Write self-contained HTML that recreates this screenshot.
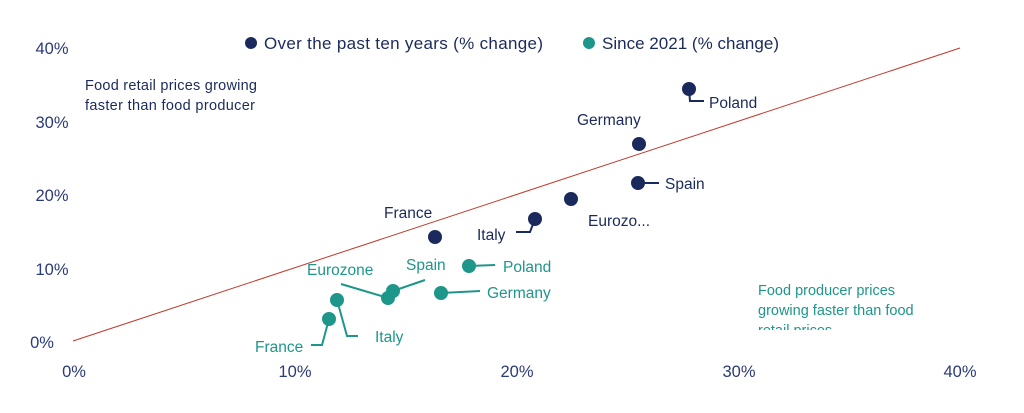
<!DOCTYPE html>
<html><head><meta charset="utf-8"><style>
html,body{margin:0;padding:0;background:#fff;}
svg{display:block;font-family:"Liberation Sans",sans-serif;}
.ax{fill:#2b3a78;font-size:16.5px;}
.n{fill:#1b2a5c;font-size:15.5px;}
.t{fill:#1e968a;font-size:15.5px;}
</style></head><body>
<svg width="1024" height="413" viewBox="0 0 1024 413">
<g class="ax">
<text x="52" y="54" text-anchor="middle">40%</text>
<text x="52" y="128" text-anchor="middle">30%</text>
<text x="52" y="201" text-anchor="middle">20%</text>
<text x="52" y="275" text-anchor="middle">10%</text>
<text x="42" y="348" text-anchor="middle">0%</text>
<text x="74" y="377" text-anchor="middle">0%</text>
<text x="295" y="377" text-anchor="middle">10%</text>
<text x="517" y="377" text-anchor="middle">20%</text>
<text x="739" y="377" text-anchor="middle">30%</text>
<text x="960" y="377" text-anchor="middle">40%</text>
</g>
<line x1="73" y1="341" x2="960" y2="48" stroke="#c0392b" stroke-width="1"/>
<circle cx="251" cy="43" r="6" fill="#1b2a5c"/>
<text x="264" y="49" class="n" style="font-size:17px" textLength="279">Over the past ten years (% change)</text>
<circle cx="589" cy="43" r="6" fill="#1e968a"/>
<text x="602" y="49" class="n" style="font-size:17px" textLength="177">Since 2021 (% change)</text>
<text x="85" y="90" class="n" style="font-size:14.5px" textLength="172">Food retail prices growing</text>
<text x="85" y="110" class="n" style="font-size:14.5px" textLength="170">faster than food producer</text>
<text x="758" y="295" class="t" style="font-size:14.5px">Food producer prices</text>
<text x="758" y="315" class="t" style="font-size:14.5px">growing faster than food</text>
<svg x="758" y="319" width="200" height="11" overflow="hidden"><text x="0" y="16" class="t" style="font-size:14.5px">retail prices</text></svg>
<g fill="#1b2a5c" stroke="#1b2a5c" stroke-width="2">
<circle cx="689" cy="89" r="6"/><polyline points="689,89 690,101 704,101" fill="none"/>
<circle cx="639" cy="144" r="6"/>
<circle cx="638" cy="183" r="6"/><line x1="638" y1="183" x2="659" y2="183"/>
<circle cx="571" cy="199" r="6"/>
<circle cx="535" cy="219" r="6"/><polyline points="535,219 530,232 516,232" fill="none"/>
<circle cx="435" cy="237" r="6"/>
</g>
<text x="709" y="108" class="n">Poland</text>
<text x="577" y="125" class="n">Germany</text>
<text x="665" y="189" class="n">Spain</text>
<text x="588" y="226" class="n">Eurozo...</text>
<text x="477" y="240" class="n">Italy</text>
<text x="384" y="218" class="n">France</text>
<g fill="#1e968a" stroke="#1e968a" stroke-width="2">
<circle cx="469" cy="266" r="6"/><line x1="469" y1="266" x2="495" y2="265"/>
<circle cx="441" cy="293" r="6"/><line x1="441" y1="293" x2="480" y2="291"/>
<circle cx="393" cy="291" r="6"/><line x1="393" y1="291" x2="425" y2="280"/>
<circle cx="388" cy="298" r="6"/><line x1="388" y1="298" x2="341" y2="284"/>
<circle cx="337" cy="300" r="6"/><polyline points="337,300 347,336 358,336" fill="none"/>
<circle cx="329" cy="319" r="6"/><polyline points="329,319 322,345 311,345" fill="none"/>
</g>
<text x="503" y="272" class="t">Poland</text>
<text x="487" y="298" class="t">Germany</text>
<text x="406" y="270" class="t">Spain</text>
<text x="307" y="275" class="t">Eurozone</text>
<text x="375" y="342" class="t">Italy</text>
<text x="255" y="352" class="t">France</text>
</svg>
</body></html>
